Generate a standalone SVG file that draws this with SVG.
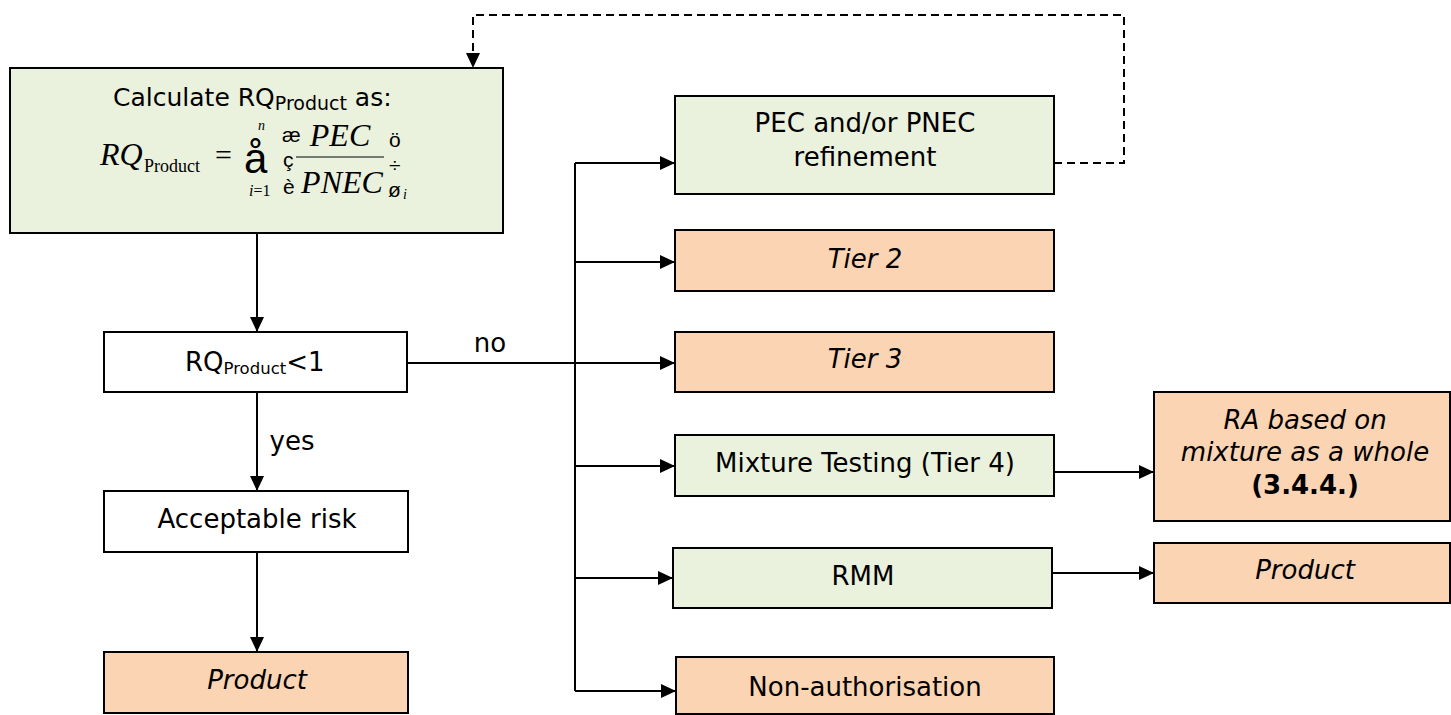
<svg xmlns="http://www.w3.org/2000/svg" width="1451" height="715" viewBox="0 0 1451 715">
<style>
.box{stroke:#000;stroke-width:2}
.g{fill:#EAF1DD}
.o{fill:#FBD4B4}
.w{fill:#fff}
.t{font-family:"DejaVu Sans",Verdana,sans-serif;font-size:26px;fill:#000;text-anchor:middle}
.it{font-style:italic}
.ln{stroke:#000;stroke-width:2;fill:none}
.serif{font-family:"Liberation Serif","Times New Roman",serif;fill:#000}
.sym{font-family:"Liberation Sans",Arial,sans-serif;fill:#000}
</style>
<defs>
<marker id="ah" markerWidth="15" markerHeight="14" refX="15" refY="7" orient="auto" markerUnits="userSpaceOnUse">
<path d="M0,0 L15,7 L0,14 z" fill="#000"/>
</marker>
</defs>
<g id="connectors">
<path class="ln" d="M257,233 V332" marker-end="url(#ah)"/>
<path class="ln" d="M257,392 V491" marker-end="url(#ah)"/>
<path class="ln" d="M257,552 V652" marker-end="url(#ah)"/>
<path class="ln" d="M407,363 H675" marker-end="url(#ah)"/>
<path class="ln" d="M575,163 V691"/>
<path class="ln" d="M575,163 H675" marker-end="url(#ah)"/>
<path class="ln" d="M575,262 H675" marker-end="url(#ah)"/>
<path class="ln" d="M575,466 H675" marker-end="url(#ah)"/>
<path class="ln" d="M575,578 H673" marker-end="url(#ah)"/>
<path class="ln" d="M575,691 H676" marker-end="url(#ah)"/>
<path class="ln" d="M1054,472 H1154" marker-end="url(#ah)"/>
<path class="ln" d="M1052,573 H1154" marker-end="url(#ah)"/>
<path class="ln" d="M1054,163 H1124 V15 H473 V68" stroke-dasharray="8,5" marker-end="url(#ah)"/>
<text class="t" x="490" y="352">no</text>
<text class="t" x="292" y="450">yes</text>
</g>
<g id="calc">
<rect class="box g" x="10" y="68" width="493" height="165"/>
<text x="113" y="106" font-family="DejaVu Sans,Verdana,sans-serif" font-size="25">Calculate RQ<tspan font-size="19" dy="4">Product</tspan><tspan dy="-4"> as:</tspan></text>
<text class="serif" x="100" y="165" font-size="32" font-style="italic">RQ</text>
<text class="serif" x="144" y="172" font-size="18">Product</text>
<text class="serif" x="215" y="165" font-size="30">=</text>
<text class="sym" x="244" y="173" font-size="42">å</text>
<text class="serif" x="258" y="130" font-size="14" font-style="italic">n</text>
<text class="serif" x="249" y="196" font-size="16"><tspan font-style="italic">i</tspan>=1</text>
<text class="sym" x="282" y="142" font-size="21">æ</text>
<text class="sym" x="283" y="167" font-size="21">ç</text>
<text class="sym" x="283" y="194" font-size="21">è</text>
<text class="serif" x="340" y="146" font-size="32" font-style="italic" text-anchor="middle">PEC</text>
<line x1="296" y1="157" x2="384" y2="157" stroke="#000" stroke-width="1"/>
<text class="serif" x="342" y="193" font-size="32" font-style="italic" text-anchor="middle">PNEC</text>
<text class="sym" x="389" y="147" font-size="21">ö</text>
<text class="sym" x="389" y="172" font-size="21">÷</text>
<text class="sym" x="388" y="197" font-size="21">ø</text>
<text class="serif" x="403" y="199" font-size="14" font-style="italic">i</text>
</g>
<g id="rq">
<rect class="box w" x="104" y="332" width="303" height="60"/>
<text x="185" y="371" font-family="DejaVu Sans,Verdana,sans-serif" font-size="26">RQ<tspan font-size="16.5" dy="3">Product</tspan><tspan dy="-3">&lt;1</tspan></text>
</g>
<g id="acceptable">
<rect class="box w" x="104" y="491" width="304" height="61"/>
<text class="t" x="257" y="528">Acceptable risk</text>
</g>
<g id="product-left">
<rect class="box o" x="104" y="652" width="304" height="61"/>
<text class="t it" x="257" y="689">Product</text>
</g>
<g id="pec">
<rect class="box g" x="675" y="96" width="379" height="98"/>
<text class="t" x="865" y="132">PEC and/or PNEC</text>
<text class="t" x="865" y="166">refinement</text>
</g>
<g id="tier2">
<rect class="box o" x="675" y="230" width="379" height="61"/>
<text class="t it" x="865" y="268">Tier 2</text>
</g>
<g id="tier3">
<rect class="box o" x="675" y="332" width="379" height="60"/>
<text class="t it" x="865" y="368">Tier 3</text>
</g>
<g id="mixture">
<rect class="box g" x="675" y="435" width="379" height="61"/>
<text class="t" x="865" y="472">Mixture Testing (Tier 4)</text>
</g>
<g id="rmm">
<rect class="box g" x="673" y="548" width="379" height="60"/>
<text class="t" x="863" y="585">RMM</text>
</g>
<g id="nonauth">
<rect class="box o" x="676" y="657" width="378" height="57"/>
<text class="t" x="865" y="696">Non-authorisation</text>
</g>
<g id="ra">
<rect class="box o" x="1154" y="392" width="296" height="129"/>
<text class="t it" x="1305" y="429">RA based on</text>
<text class="t it" x="1305" y="461">mixture as a whole</text>
<text class="t" x="1305" y="494" font-weight="bold">(3.4.4.)</text>
</g>
<g id="product-right">
<rect class="box o" x="1154" y="543" width="296" height="60"/>
<text class="t it" x="1305" y="579">Product</text>
</g>
</svg>
